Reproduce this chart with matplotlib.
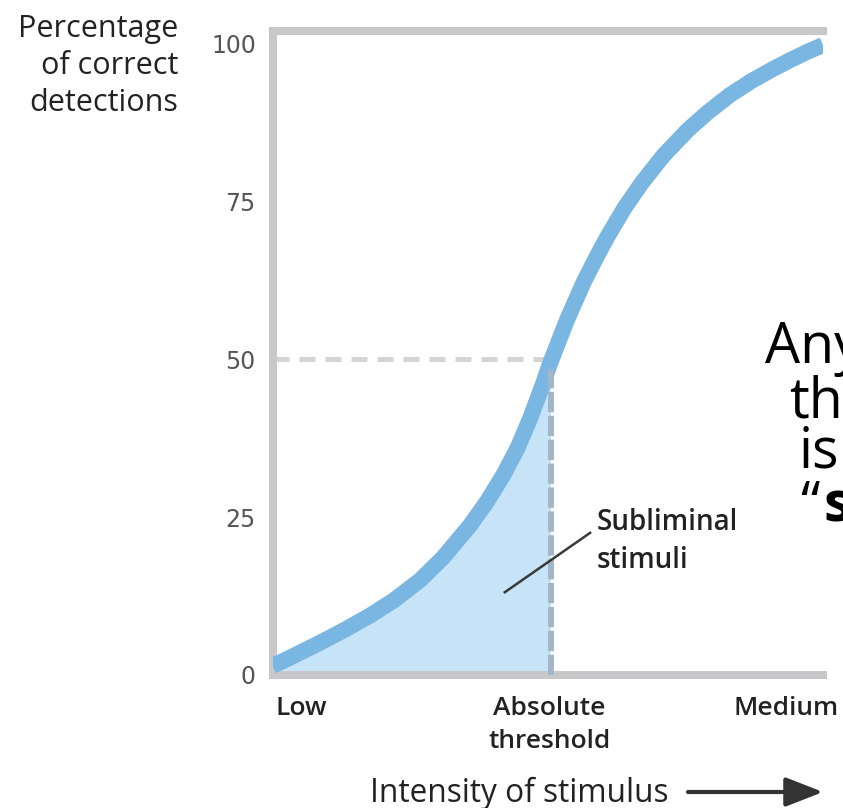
import numpy as np
import matplotlib
matplotlib.use("Agg")
import matplotlib.pyplot as plt

# stimulus intensity (0 = low, 1 = right edge of the plot) and % detected
intensity = [0.0, 0.014, 0.04, 0.086, 0.13, 0.177, 0.22, 0.268, 0.31, 0.359, 0.39, 0.419,
             0.445, 0.468, 0.491, 0.505, 0.535, 0.566, 0.59, 0.608, 0.64, 0.671, 0.71,
             0.755, 0.79, 0.831, 0.87, 0.909, 0.94, 0.971, 1.0]
detect_pct = [1.5, 2.0, 3.1, 5.1, 7.1, 9.4, 11.8, 15.0, 18.6, 23.7, 27.5, 31.6,
              35.9, 40.6, 46.0, 49.5, 56.2, 62.3, 66.4, 69.3, 74.0, 77.9, 82.2,
              86.3, 89.0, 91.8, 94.0, 95.9, 97.3, 98.6, 99.7]

threshold_x = 0.505
threshold_pct = 50
y_ticks = [0, 25, 50, 75, 100]
x_tick_pos = [0.052, 0.503, 0.932]
x_tick_labels = ["Low", "Absolute\nthreshold", "Medium"]

W, H = 843, 808
fig = plt.figure(figsize=(W / 100, H / 100), dpi=100)
# axes box in pixels: left spine 272, right edge 823, top 30, bottom 675
ax = fig.add_axes([272.5 / W, 1 - 675 / H, (823 - 272.5) / W, (675 - 30.5) / H])

line_c = "#79b6e2"
fill_c = "#c6e3f7"
spine_c = "#c8c8ca"

xs = np.array(intensity)
ys = np.array(detect_pct)
m = xs <= threshold_x
ax.fill_between(xs[m], 0, ys[m], color=fill_c, lw=0, zorder=1)

ax.plot([0, threshold_x], [threshold_pct, threshold_pct], color="#d4d4d6", lw=3.6,
        dashes=(3.2, 2.0), zorder=2)
ax.plot(xs, ys, color=line_c, lw=11.5, solid_capstyle="butt", solid_joinstyle="round", zorder=3)
ax.plot([threshold_x, threshold_x], [0, threshold_pct - 1.5], color="#a3b6c8", lw=4.3,
        dashes=(3.4, 0.6), zorder=4)

ax.set_xlim(0, 1)
ax.set_ylim(0, 102)
for s in ["left", "top", "bottom"]:
    ax.spines[s].set_color(spine_c)
    ax.spines[s].set_linewidth(5.8)
ax.spines["right"].set_visible(False)

ax.set_yticks(y_ticks)
ax.set_yticklabels([str(v) for v in y_ticks], family="DejaVu Sans", fontsize=17, color="#555555")
ax.set_xticks(x_tick_pos)
ax.set_xticklabels(x_tick_labels, family="Open Sans", fontweight="semibold", fontsize=19,
                   color="#222222", linespacing=1.42)
ax.tick_params(axis="both", length=0)
ax.tick_params(axis="y", pad=12)
ax.tick_params(axis="x", pad=15)

# subliminal label + leader line
ax.text(0.589, 26.4, "Subliminal\nstimuli", family="Open Sans", fontweight="semibold",
        fontsize=20, color="#222222", va="top", ha="left", linespacing=1.38)
ax.plot([0.422, 0.577], [13.1, 22.5], color="#3a3a3a", lw=1.8, zorder=5)

fig.text(178 / W, 1 - 14 / H, "Percentage\nof correct\ndetections", family="Open Sans",
         fontsize=22, color="#222222", ha="right", va="top", multialignment="right",
         linespacing=1.3)

fig.text(519 / W, 1 - 793 / H, "Intensity of stimulus", family="Open Sans", fontsize=22.8,
         color="#222222", ha="center", va="center")
fig.patches.append(matplotlib.patches.FancyArrowPatch(
    (688 / W, 1 - 792 / H), (823 / W, 1 - 792 / H), transform=fig.transFigure,
    arrowstyle="-|>,head_length=1.15,head_width=0.45", mutation_scale=20,
    color="#333333", lw=3, shrinkA=0, shrinkB=0))

# slide text overlapping the right edge (cut off in the original)
big = dict(family="Open Sans", fontsize=40, color="black", ha="left", va="baseline")
fig.text(765 / W, 1 - 363 / H, "Any", **big)
fig.text(789 / W, 1 - 418 / H, "th", **big)
fig.text(799 / W, 1 - 468 / H, "is", **big)
fig.text(800 / W, 1 - 522 / H, "\u201c", **big)
fig.text(823 / W, 1 - 522 / H, "s", fontweight="bold", **big)

fig.savefig("out.png", dpi=100)
